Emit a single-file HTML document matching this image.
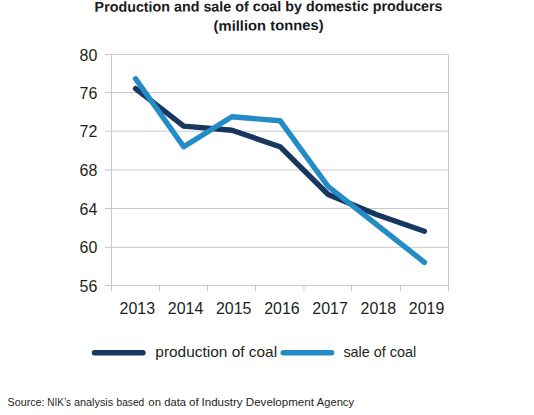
<!DOCTYPE html>
<html><head><meta charset="utf-8"><style>
html,body{margin:0;padding:0;background:#fff;}
body{width:534px;height:415px;overflow:hidden;}
svg{display:block;font-family:"Liberation Sans",sans-serif;}
</style></head><body>
<svg width="534" height="415" viewBox="0 0 534 415">
<rect width="534" height="415" fill="#fff"/>
<g font-weight="bold" font-size="14.3" fill="#1a1a1a" text-anchor="middle">
<text x="268.6" y="11.3" transform="rotate(-0.15 268.6 11.3)">Production and sale of coal by domestic producers</text>
<text x="268.6" y="30.4" transform="rotate(-0.5 268.6 30.4)" textLength="110" lengthAdjust="spacingAndGlyphs">(million tonnes)</text>
</g>
<g stroke="#c8c8c8" stroke-width="1" fill="none">
<line x1="105" y1="54.5" x2="448.5" y2="54.5" />
<line x1="105" y1="92.5" x2="448.5" y2="92.5" />
<line x1="105" y1="131.2" x2="448.5" y2="131.2" />
<line x1="105" y1="170.0" x2="448.5" y2="170.0" />
<line x1="105" y1="208.5" x2="448.5" y2="208.5" />
<line x1="105" y1="247.3" x2="448.5" y2="247.3" />
<line x1="105" y1="285.5" x2="448.5" y2="285.5" />
<line x1="111.5" y1="54.5" x2="111.5" y2="291.4" />
<line x1="448.5" y1="54.5" x2="448.5" y2="291.4" />
<line x1="159.5" y1="285.5" x2="159.5" y2="291.4" />
<line x1="207.5" y1="285.5" x2="207.5" y2="291.4" />
<line x1="255.5" y1="285.5" x2="255.5" y2="291.4" />
<line x1="304.0" y1="285.5" x2="304.0" y2="291.4" />
<line x1="351.5" y1="285.5" x2="351.5" y2="291.4" />
<line x1="400.5" y1="285.5" x2="400.5" y2="291.4" />
</g>
<g font-size="17" fill="#231f20" text-anchor="end">
<text transform="translate(97.3,60.5) scale(0.94,1)">80</text>
<text transform="translate(97.3,98.5) scale(0.94,1)">76</text>
<text transform="translate(97.3,137.2) scale(0.94,1)">72</text>
<text transform="translate(97.3,176.0) scale(0.94,1)">68</text>
<text transform="translate(97.3,214.5) scale(0.94,1)">64</text>
<text transform="translate(97.3,253.3) scale(0.94,1)">60</text>
<text transform="translate(97.3,291.5) scale(0.94,1)">56</text>
</g>
<g font-size="17" fill="#231f20" text-anchor="middle">
<text transform="translate(137.3,313.8) scale(0.94,1)">2013</text>
<text transform="translate(185.5,313.8) scale(0.94,1)">2014</text>
<text transform="translate(233.7,313.8) scale(0.94,1)">2015</text>
<text transform="translate(281.9,313.8) scale(0.94,1)">2016</text>
<text transform="translate(330.1,313.8) scale(0.94,1)">2017</text>
<text transform="translate(378.3,313.8) scale(0.94,1)">2018</text>
<text transform="translate(426.5,313.8) scale(0.94,1)">2019</text>
</g>
<polyline points="135.6,88.6 183.7,126.1 231.9,130.2 280.0,146.7 328.2,194.5 376.3,214.5 424.4,231.2" fill="none" stroke="#17375e" stroke-width="5.4" stroke-linecap="round" stroke-linejoin="round"/>
<polyline points="135.6,78.8 183.7,146.7 231.9,116.8 280.0,120.7 328.2,186.5 376.3,224.3 424.4,262.3" fill="none" stroke="#238bc6" stroke-width="5.4" stroke-linecap="round" stroke-linejoin="round"/>
<line x1="94.4" y1="352.7" x2="143" y2="352.7" stroke="#17375e" stroke-width="5.4" stroke-linecap="round"/>
<line x1="283.2" y1="352.7" x2="331.6" y2="352.7" stroke="#238bc6" stroke-width="5.4" stroke-linecap="round"/>
<g font-size="15" fill="#231f20">
<text x="155.3" y="356.8" textLength="121.8" lengthAdjust="spacingAndGlyphs">production of coal</text>
<text x="343.4" y="356.8" textLength="72.7" lengthAdjust="spacingAndGlyphs">sale of coal</text>
</g>
<g font-size="11" fill="#231f20">
<text x="7.61" y="406" textLength="36.97" lengthAdjust="spacingAndGlyphs">Source:</text>
<text x="47.28" y="406" textLength="23.68" lengthAdjust="spacingAndGlyphs">NIK’s</text>
<text x="74.04" y="406" textLength="39.16" lengthAdjust="spacingAndGlyphs">analysis</text>
<text x="116.54" y="406" textLength="27.71" lengthAdjust="spacingAndGlyphs">based</text>
<text x="148.33" y="406" textLength="12.61" lengthAdjust="spacingAndGlyphs">on</text>
<text x="164.23" y="406" textLength="21.77" lengthAdjust="spacingAndGlyphs">data</text>
<text x="189.12" y="406" textLength="9.67" lengthAdjust="spacingAndGlyphs">of</text>
<text x="201.53" y="406" textLength="41.09" lengthAdjust="spacingAndGlyphs">Industry</text>
<text x="245.86" y="406" textLength="68.02" lengthAdjust="spacingAndGlyphs">Development</text>
<text x="316.88" y="406" textLength="37.14" lengthAdjust="spacingAndGlyphs">Agency</text>
</g>
</svg>
</body></html>
